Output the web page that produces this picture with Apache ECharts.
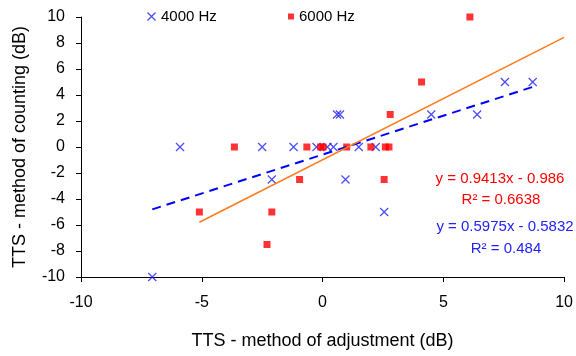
<!DOCTYPE html>
<html>
<head>
<meta charset="utf-8">
<script src="https://cdn.jsdelivr.net/npm/echarts@6/dist/echarts.min.js"></script>
<style>
html,body{margin:0;padding:0;background:#fff;}
#chart{width:576px;height:356px;}
</style>
</head>
<body>
<div id="chart"></div>
<script>
// 4000 Hz points [adjustment, counting]
var hz4000 = [
  [-7.05, -10], [-5.9, 0], [-2.5, 0], [-2.1, -2.5], [-1.2, 0], [-0.25, 0],
  [0.2, 0], [0.45, 0], [0.6, 2.5], [0.72, 2.5], [0.95, -2.5], [1.5, 0],
  [2.2, 0], [2.55, -5], [4.5, 2.5], [6.4, 2.5], [7.55, 5], [8.7, 5]
];
// 6000 Hz points
var hz6000 = [
  [-5.1, -5], [-3.65, 0], [-2.3, -7.5], [-2.1, -5], [-0.95, -2.5], [-0.65, 0],
  [-0.08, 0], [0.02, 0], [1.0, 0], [2.0, 0], [2.6, 0], [2.75, 0],
  [2.55, -2.5], [2.8, 2.5], [4.1, 5], [6.1, 10]
];
// trend lines (end points)
var trend4000 = [[-7.05, -4.80], [8.7, 4.62]];
var trend6000 = [[-5.1, -5.79], [10, 8.43]];
var eq4000 = ['y = 0.5975x - 0.5832', 'R\u00b2 = 0.484'];
var eq6000 = ['y = 0.9413x - 0.986', 'R\u00b2 = 0.6638'];

var font = 'Liberation Sans, Arial, sans-serif';
var xIcon = 'path://M0,1L1,0L5,4L9,0L10,1L6,5L10,9L9,10L5,6L1,10L0,9L4,5Z';

var chart = echarts.init(document.getElementById('chart'));

var option = {
    animation: false,
    grid: {left: 81, right: 11, top: 17, bottom: 79},
    legend: [
        {
            left: 142, top: 4,
            itemWidth: 9, itemHeight: 9, itemGap: 5,
            textStyle: {fontFamily: font, fontSize: 15, color: '#000'},
            data: [{name: '4000 Hz', icon: xIcon}]
        },
        {
            left: 283, top: 4,
            itemWidth: 6, itemHeight: 6, itemGap: 5,
            textStyle: {fontFamily: font, fontSize: 15, color: '#000'},
            data: [{name: '6000 Hz', icon: 'rect'}]
        }
    ],
    xAxis: {
        type: 'value', min: -10, max: 10, interval: 5,
        name: 'TTS - method of adjustment (dB)',
        nameLocation: 'middle', nameGap: 55,
        nameTextStyle: {fontFamily: font, fontSize: 18, color: '#000'},
        axisLine: {onZero: false, lineStyle: {color: '#000', width: 1}},
        axisTick: {show: true, length: 5, lineStyle: {color: '#000'}},
        axisLabel: {fontFamily: font, fontSize: 16, color: '#000', margin: 18},
        splitLine: {show: false}
    },
    yAxis: {
        type: 'value', min: -10, max: 10, interval: 2,
        name: 'TTS - method of counting (dB)',
        nameLocation: 'middle', nameGap: 52,
        nameTextStyle: {fontFamily: font, fontSize: 18, color: '#000'},
        axisLine: {show: true, onZero: false, lineStyle: {color: '#000', width: 1}},
        axisTick: {show: true, length: 5, lineStyle: {color: '#000'}},
        axisLabel: {fontFamily: font, fontSize: 16, color: '#000', margin: 16},
        splitLine: {show: false}
    },
    series: [
        {
            name: '4000 Hz', type: 'scatter',
            symbol: xIcon, symbolSize: 9,
            itemStyle: {color: '#2222ff'},
            data: hz4000, z: 3
        },
        {
            name: '6000 Hz', type: 'scatter',
            symbol: 'rect', symbolSize: 7,
            itemStyle: {color: '#ff0000'},
            data: hz6000, z: 4
        },
        {
            name: 'trend 4000', type: 'line',
            data: trend4000, showSymbol: false, symbol: 'none',
            lineStyle: {color: '#0000ff', width: 2, type: [9, 6]},
            z: 5, silent: true
        },
        {
            name: 'trend 6000', type: 'line',
            data: trend6000, showSymbol: false, symbol: 'none',
            lineStyle: {color: '#ff7a1a', width: 1.5},
            z: 5, silent: true
        }
    ],
    graphic: [
        {type: 'text', x: 500, y: 179, style: {text: eq6000[0], font: '15px ' + font, fill: '#ff0000', align: 'center', verticalAlign: 'middle'}},
        {type: 'text', x: 501, y: 200, style: {text: eq6000[1], font: '15px ' + font, fill: '#ff0000', align: 'center', verticalAlign: 'middle'}},
        {type: 'text', x: 505, y: 227, style: {text: eq4000[0], font: '15px ' + font, fill: '#2222ff', align: 'center', verticalAlign: 'middle'}},
        {type: 'text', x: 506, y: 249, style: {text: eq4000[1], font: '15px ' + font, fill: '#2222ff', align: 'center', verticalAlign: 'middle'}}
    ]
};

chart.setOption(option);
</script>
</body>
</html>
